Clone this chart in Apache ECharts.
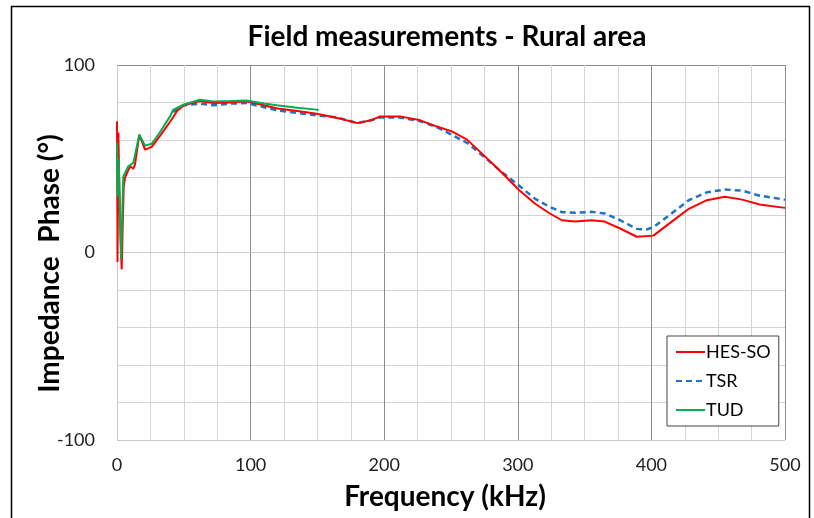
<!DOCTYPE html>
<html>
<head>
<meta charset="utf-8">
<script src="https://cdn.jsdelivr.net/npm/echarts@6/dist/echarts.min.js"></script>
<style>
  html, body { margin: 0; padding: 0; background: #fff; }
  #chart { width: 814px; height: 518px; }
</style>
</head>
<body>
<div id="chart"></div>
<script>
// values (frequency in kHz, phase in degrees)
const hesFreq = [0, 0.4, 1.0, 2.2, 3.5, 5, 6, 8.5, 10, 12.2, 13.5, 16.7, 21, 26, 33, 40, 45, 50, 62, 72, 85, 97, 110, 120, 135, 149.5, 165, 180, 190, 197, 212, 227, 239, 250.6, 262, 274, 287, 300.5, 313, 324, 333, 343, 355, 365, 376.6, 389, 401.5, 414, 428, 441.5, 455, 468, 481, 500];
const hesPhase = [70, -5, 64, 20, -9, 35, 40, 44, 46, 44.6, 47, 62.8, 54.9, 56.3, 63, 70, 75.5, 78.5, 80.8, 79.7, 80, 80.6, 78.5, 76.8, 75.5, 74, 71.7, 69, 70.5, 72.6, 72.6, 70.5, 67.3, 64.6, 60.2, 52.2, 43.3, 33.6, 26, 20.8, 17.2, 16.5, 17.2, 16.5, 12.8, 8.4, 9, 15.8, 23.3, 27.9, 29.7, 28.2, 25.6, 23.8];

const tsrFreq = [42, 50, 62, 72, 85, 97, 110, 120, 135, 149.5, 165, 180, 190, 197, 212, 227, 239, 250, 262, 274, 287, 300, 313, 324, 333, 343, 355, 365, 376.6, 389, 396.5, 401.5, 414, 428, 441.5, 455, 468, 481, 500];
const tsrPhase = [75, 78.5, 79.4, 78.5, 79.4, 79.7, 77.5, 75.8, 74.5, 73.1, 72, 69, 70.5, 72, 72, 70, 67, 63, 58.5, 51.5, 43.5, 36.2, 28.6, 24.3, 21.5, 21.2, 21.7, 20.8, 17.2, 12.6, 12.3, 13.5, 20.2, 27.9, 32.1, 33.6, 33, 30.3, 28.2];

const tudFreq = [0, 0.5, 1.2, 3, 4.7, 8.5, 12.2, 16.7, 21, 26, 32, 39.7, 42, 49.6, 62, 72, 85, 97, 110, 119.6, 135, 149.5, 151];
const tudPhase = [58.6, 30, 50, -3.7, 40.6, 46, 47.8, 62.8, 57, 58, 64, 72.6, 76, 78.8, 81.5, 80.6, 80.8, 81.1, 79.5, 78.5, 77.2, 76.2, 76];

const seriesNames = ['HES-SO', 'TSR', 'TUD'];

const pairs = (xs, ys) => xs.map((x, i) => [x, ys[i]]);

const font = 'Lato, "Open Sans", sans-serif';

const chart = echarts.init(document.getElementById('chart'));

const option = {
  backgroundColor: '#fff',
  animation: false,
  title: {
    text: 'Field measurements - Rural area',
    left: 442,
    top: 18,
    textAlign: 'center',
    textStyle: { fontFamily: font, fontSize: 28, fontWeight: 'bold', color: '#000' }
  },
  graphic: [{
    type: 'rect',
    shape: { x: 11.5, y: 6.5, width: 798, height: 530 },
    style: { fill: 'none', stroke: '#000', lineWidth: 1.5 },
    silent: true
  }],
  grid: { left: 117, right: 29, top: 65, bottom: 78 },
  legend: {
    data: seriesNames,
    orient: 'vertical',
    left: 667,
    top: 336,
    backgroundColor: '#fff',
    borderColor: '#444',
    borderWidth: 1,
    padding: [7, 8, 7, 8],
    itemGap: 11,
    itemWidth: 29,
    itemHeight: 14,
    itemStyle: { opacity: 0 },
    textStyle: { fontFamily: font, fontSize: 18, color: '#000', padding: [0, 0, 0, -4] }
  },
  xAxis: {
    type: 'value',
    min: 0,
    max: 500,
    interval: 100,
    name: 'Frequency (kHz)',
    nameLocation: 'middle',
    nameGap: 43,
    nameTextStyle: { fontFamily: font, fontSize: 28, fontWeight: 'bold', color: '#000', padding: [0, 12, 0, 0] },
    axisLine: { show: true, lineStyle: { color: '#c8c8c8', width: 1 } },
    axisTick: { show: false },
    axisLabel: { fontFamily: font, fontSize: 18, color: '#222', margin: 16 },
    splitLine: { show: true, lineStyle: { color: ['#c8c8c8', '#8c8c8c', '#8c8c8c', '#8c8c8c', '#8c8c8c', '#8c8c8c'], width: 1 } },
    minorTick: { show: false, splitNumber: 4 },
    minorSplitLine: { show: true, lineStyle: { color: '#d4d4d4', width: 1 } }
  },
  yAxis: {
    type: 'value',
    min: -100,
    max: 100,
    interval: 100,
    name: 'Impedance  Phase (°)',
    nameLocation: 'middle',
    nameMoveOverlap: false,
    nameGap: 53,
    nameTextStyle: { fontFamily: font, fontSize: 28, fontWeight: 'bold', color: '#000', padding: [0, 22, 0, 0] },
    axisLine: { show: true, lineStyle: { color: '#c8c8c8', width: 1 } },
    axisTick: { show: false },
    axisLabel: { fontFamily: font, fontSize: 18, color: '#222', margin: 22 },
    splitLine: { show: true, lineStyle: { color: ['#c8c8c8', '#8c8c8c', '#8c8c8c'], width: 1 } },
    minorTick: { show: false, splitNumber: 5 },
    minorSplitLine: { show: true, lineStyle: { color: '#d4d4d4', width: 1 } }
  },
  series: [
    {
      name: 'TSR',
      type: 'line',
      symbol: 'none',
      z: 2,
      data: pairs(tsrFreq, tsrPhase),
      lineStyle: { color: '#1f72c4', width: 2.5, type: [6, 4] },
      itemStyle: { color: '#1f72c4' }
    },
    {
      name: 'HES-SO',
      type: 'line',
      symbol: 'none',
      z: 3,
      data: pairs(hesFreq, hesPhase),
      lineStyle: { color: '#ff0000', width: 2 },
      itemStyle: { color: '#ff0000' }
    },
    {
      name: 'TUD',
      type: 'line',
      symbol: 'none',
      z: 4,
      data: pairs(tudFreq, tudPhase),
      lineStyle: { color: '#00b050', width: 2 },
      itemStyle: { color: '#00b050' }
    }
  ]
};

chart.setOption(option);
</script>
</body>
</html>
